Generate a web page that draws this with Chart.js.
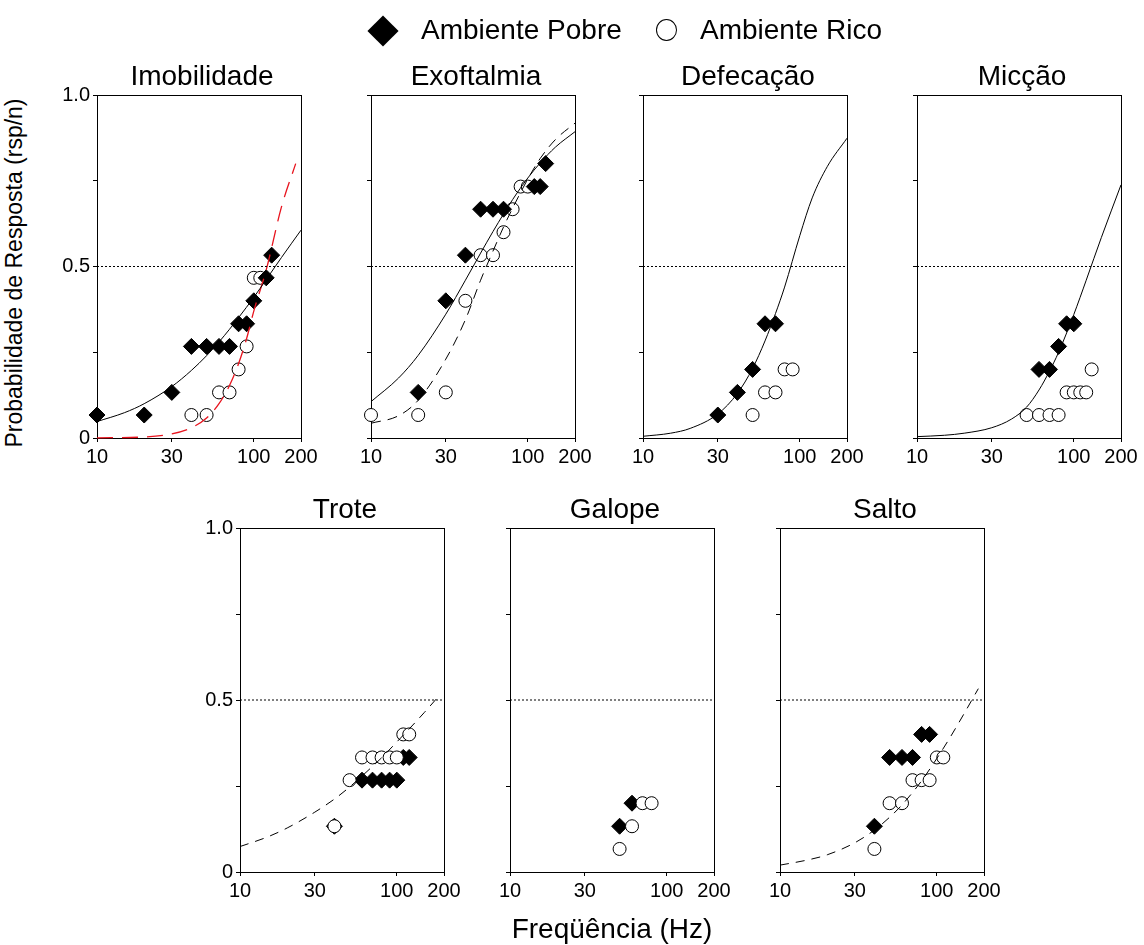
<!DOCTYPE html>
<html><head><meta charset="utf-8">
<script src="https://cdn.jsdelivr.net/npm/chart.js@4"></script>
<style>
body{margin:0;background:#fff;}
#fig{position:relative;width:1144px;height:945px;font-family:"Liberation Sans",Arial,sans-serif;color:#000;overflow:hidden;background:#fff}
#fig canvas{position:absolute}
.t{position:absolute;white-space:nowrap;line-height:1}
.title{font-size:28px;line-height:28px;text-align:center;width:204px}
</style></head><body><div id="fig"></div>
<script>
// ---------------- data ----------------
const xTickValues = [10, 30, 100, 200];
const yTickValues = [0, 0.25, 0.5, 0.75, 1];
const yTickLabels = {0: '0', 0.5: '0.5', 1: '1.0'};
const refLineX = [10, 200];
const refLineY = [0.5, 0.5];
const fitX = [10, 15, 20, 30, 40, 50, 60, 70, 80, 100, 120, 150, 200];

const panelTitles = ['Imobilidade', 'Exoftalmia', 'Defecação', 'Micção', 'Trote', 'Galope', 'Salto'];
const legendLabels = ['Ambiente Pobre', 'Ambiente Rico'];

// Imobilidade
const imobPobreX = [10, 20, 30, 40, 50, 60, 70, 80, 90, 100, 120, 130];
const imobPobreY = [0.067, 0.067, 0.133, 0.267, 0.267, 0.267, 0.267, 0.333, 0.333, 0.4, 0.467, 0.533];
const imobRicoX = [40, 50, 60, 70, 80, 90, 100, 110];
const imobRicoY = [0.067, 0.067, 0.133, 0.133, 0.2, 0.267, 0.467, 0.467];
const imobPobreFitY = [0.048, 0.074, 0.10, 0.15, 0.197, 0.24, 0.28, 0.317, 0.351, 0.41, 0.462, 0.526, 0.606];
const imobRicoFitX = [10, 20, 30, 40, 50, 60, 70, 80, 90, 100, 120, 150, 185];
const imobRicoFitY = [0.0005, 0.003, 0.012, 0.03, 0.058, 0.10, 0.153, 0.217, 0.29, 0.37, 0.49, 0.673, 0.80];

// Exoftalmia
const exoPobreX = [20, 30, 40, 50, 60, 70, 110, 120, 130];
const exoPobreY = [0.133, 0.4, 0.533, 0.667, 0.667, 0.667, 0.733, 0.733, 0.8];
const exoRicoX = [10, 20, 30, 40, 50, 60, 70, 80, 90, 100];
const exoRicoY = [0.067, 0.067, 0.133, 0.4, 0.533, 0.533, 0.6, 0.667, 0.733, 0.733];
const exoPobreFitY = [0.106, 0.175, 0.241, 0.361, 0.46, 0.539, 0.602, 0.653, 0.695, 0.758, 0.802, 0.848, 0.893];
const exoRicoFitY = [0.043, 0.065, 0.11, 0.23, 0.345, 0.46, 0.545, 0.615, 0.67, 0.755, 0.815, 0.87, 0.918];

// Defecação
const defPobreX = [30, 40, 50, 60, 70];
const defPobreY = [0.067, 0.133, 0.2, 0.333, 0.333];
const defRicoX = [50, 60, 70, 80, 90];
const defRicoY = [0.067, 0.133, 0.133, 0.2, 0.2];
const defPobreFitY = [0.005, 0.014, 0.028, 0.07, 0.13, 0.203, 0.283, 0.363, 0.44, 0.59, 0.70, 0.792, 0.874];

// Micção
const micPobreX = [60, 70, 80, 90, 100];
const micPobreY = [0.2, 0.2, 0.267, 0.333, 0.333];
const micRicoX = [50, 60, 70, 80, 90, 100, 110, 120, 130];
const micRicoY = [0.067, 0.067, 0.067, 0.067, 0.133, 0.133, 0.133, 0.133, 0.2];
const micPobreFitY = [0.004, 0.008, 0.014, 0.03, 0.055, 0.09, 0.14, 0.195, 0.25, 0.36, 0.46, 0.585, 0.738];

// Trote
const trotePobreX = [40, 60, 70, 80, 90, 100, 110, 120];
const trotePobreY = [0.133, 0.267, 0.267, 0.267, 0.267, 0.267, 0.333, 0.333];
const troteRicoX = [40, 50, 60, 70, 80, 90, 100, 110, 120];
const troteRicoY = [0.133, 0.267, 0.333, 0.333, 0.333, 0.333, 0.333, 0.4, 0.4];
const troteFitX = [10, 15, 20, 30, 40, 50, 60, 70, 80, 100, 120, 150, 190];
const troteFitY = [0.074, 0.102, 0.128, 0.174, 0.212, 0.247, 0.279, 0.307, 0.332, 0.378, 0.416, 0.464, 0.517];

// Galope
const galPobreX = [50, 60];
const galPobreY = [0.133, 0.2];
const galRicoX = [50, 60, 70, 80];
const galRicoY = [0.067, 0.133, 0.2, 0.2];

// Salto
const saltoPobreX = [40, 50, 60, 70, 80, 90];
const saltoPobreY = [0.133, 0.333, 0.333, 0.333, 0.4, 0.4];
const saltoRicoX = [40, 50, 60, 70, 80, 90, 100, 110];
const saltoRicoY = [0.067, 0.2, 0.2, 0.267, 0.267, 0.267, 0.333, 0.333];
const saltoFitX = [10, 15, 20, 30, 40, 50, 60, 70, 80, 100, 120, 150, 184];
const saltoFitY = [0.02, 0.035, 0.05, 0.085, 0.122, 0.159, 0.195, 0.231, 0.265, 0.33, 0.387, 0.462, 0.533];

// ---------------- layout / styling ----------------
const fig = document.getElementById('fig');
const FONT = '"Liberation Sans", Arial, sans-serif';
Chart.defaults.font.family = FONT;
Chart.defaults.font.size = 20;
Chart.defaults.color = '#000';

const pts = (xs, ys) => xs.map((x, i) => ({x: x, y: ys[i]}));

const PLOT_W = 204;
const PAD_L = 60, PAD_T = 12, PAD_R = 30, PAD_B = 40;

const panels = [
  {title: panelTitles[0], L: 97, T: 95, H: 343, yLabels: true, top: true,
   pobre: [imobPobreX, imobPobreY], rico: [imobRicoX, imobRicoY],
   curves: [{x: fitX, y: imobPobreFitY, dash: [], color: '#000'},
            {x: imobRicoFitX, y: imobRicoFitY, dash: [16, 9], color: '#e8141e', width: 1.3}]},
  {title: panelTitles[1], L: 371, T: 95, H: 343, yLabels: false, top: true,
   pobre: [exoPobreX, exoPobreY], rico: [exoRicoX, exoRicoY],
   curves: [{x: fitX, y: exoPobreFitY, dash: [], color: '#000'},
            {x: fitX, y: exoRicoFitY, dash: [10, 7], color: '#000'}]},
  {title: panelTitles[2], L: 643, T: 95, H: 343, yLabels: false, top: true,
   pobre: [defPobreX, defPobreY], rico: [defRicoX, defRicoY],
   curves: [{x: fitX, y: defPobreFitY, dash: [], color: '#000'}]},
  {title: panelTitles[3], L: 917, T: 95, H: 343, yLabels: false, top: true,
   pobre: [micPobreX, micPobreY], rico: [micRicoX, micRicoY],
   curves: [{x: fitX, y: micPobreFitY, dash: [], color: '#000'}]},
  {title: panelTitles[4], L: 240, T: 528, H: 344, yLabels: true, top: false,
   pobre: [trotePobreX, trotePobreY], rico: [troteRicoX, troteRicoY],
   curves: [{x: troteFitX, y: troteFitY, dash: [9, 7], color: '#000'}]},
  {title: panelTitles[5], L: 510, T: 528, H: 344, yLabels: false, top: false,
   pobre: [galPobreX, galPobreY], rico: [galRicoX, galRicoY], curves: []},
  {title: panelTitles[6], L: 780, T: 528, H: 344, yLabels: false, top: false,
   pobre: [saltoPobreX, saltoPobreY], rico: [saltoRicoX, saltoRicoY],
   curves: [{x: saltoFitX, y: saltoFitY, dash: [9, 7], color: '#000'}]}
];

const framePlugin = {
  id: 'frame',
  beforeDatasetsDraw(chart) {
    const a = chart.chartArea, ctx = chart.ctx;
    ctx.save();
    ctx.strokeStyle = '#000';
    ctx.lineWidth = 1;
    ctx.strokeRect(Math.round(a.left) + 0.5, Math.round(a.top) + 0.5,
                   Math.round(a.right - a.left), Math.round(a.bottom - a.top));
    ctx.restore();
  }
};

function addText(txt, cls, style) {
  const d = document.createElement('div');
  d.className = 't ' + (cls || '');
  d.textContent = txt;
  Object.assign(d.style, style);
  fig.appendChild(d);
  return d;
}

panels.forEach(p => {
  const cv = document.createElement('canvas');
  const w = PAD_L + PLOT_W + PAD_R, h = PAD_T + p.H + PAD_B;
  cv.width = w; cv.height = h;
  cv.style.left = (p.L - PAD_L) + 'px';
  cv.style.top = (p.T - PAD_T) + 'px';
  cv.style.width = w + 'px'; cv.style.height = h + 'px';
  fig.appendChild(cv);

  const datasets = [];
  datasets.push({data: pts(refLineX, refLineY), showLine: true, borderColor: '#000', borderWidth: 1,
    borderDash: [2, 2], pointRadius: 0, order: 0, clip: false});
  p.curves.forEach(c => datasets.push({data: pts(c.x, c.y), showLine: true, borderColor: c.color,
    borderWidth: c.width || 1, borderDash: c.dash, pointRadius: 0, cubicInterpolationMode: 'monotone',
    order: 0, clip: false}));
  datasets.push({label: legendLabels[0], data: pts(p.pobre[0], p.pobre[1]), showLine: false,
    pointStyle: 'rectRot', pointRadius: 8, backgroundColor: '#000', borderColor: '#000', borderWidth: 1,
    order: p.top ? 1 : 2, clip: false});
  datasets.push({label: legendLabels[1], data: pts(p.rico[0], p.rico[1]), showLine: false,
    pointStyle: 'circle', pointRadius: 6.5, backgroundColor: '#fff', borderColor: '#000', borderWidth: 1,
    order: p.top ? 2 : 1, clip: false});

  new Chart(cv, {
    type: 'scatter',
    data: {datasets: datasets},
    plugins: [framePlugin],
    options: {
      responsive: false, animation: false, events: [], devicePixelRatio: 1,
      layout: {autoPadding: false, padding: {left: 0, top: PAD_T, right: PAD_R, bottom: 0}},
      plugins: {legend: {display: false}, tooltip: {enabled: false}, title: {display: false}},
      scales: {
        x: {type: 'logarithmic', min: 10, max: 200,
          afterBuildTicks: s => { s.ticks = xTickValues.map(v => ({value: v})); },
          afterFit: s => { s.height = PAD_B; s.paddingLeft = 0; s.paddingRight = 0; },
          ticks: {autoSkip: false, maxRotation: 0, minRotation: 0, padding: 3,
            font: {size: 20}, color: '#000', callback: v => String(v)},
          grid: {display: true, drawOnChartArea: false, drawTicks: true, tickLength: 4, color: '#000', lineWidth: 1},
          border: {display: true, color: '#000', width: 1}},
        y: {type: 'linear', min: 0, max: 1,
          afterBuildTicks: s => { s.ticks = yTickValues.map(v => ({value: v})); },
          afterFit: s => { s.width = PAD_L; s.paddingTop = 0; s.paddingBottom = 0; },
          ticks: {autoSkip: false, padding: 3, font: {size: 20}, color: '#000',
            callback: v => (p.yLabels && yTickLabels[v] !== undefined) ? yTickLabels[v] : ''},
          grid: {display: true, drawOnChartArea: false, drawTicks: true, tickLength: 4, color: '#000', lineWidth: 1},
          border: {display: true, color: '#000', width: 1}}
      }
    }
  });

  addText(p.title, 'title', {left: (p.L + 3) + 'px', top: (p.T - 33) + 'px'});
});

// legend
const dia = document.createElement('div');
Object.assign(dia.style, {position: 'absolute', left: '371.5px', top: '19.5px', width: '22px', height: '22px',
  background: '#000', transform: 'rotate(45deg)'});
fig.appendChild(dia);
addText(legendLabels[0], '', {left: '421px', top: '16px', fontSize: '28px'});
const circ = document.createElement('div');
Object.assign(circ.style, {position: 'absolute', left: '656px', top: '19px', width: '19px', height: '20px',
  border: '1.5px solid #000', borderRadius: '50%', background: '#fff'});
fig.appendChild(circ);
addText(legendLabels[1], '', {left: '700px', top: '16px', fontSize: '28px'});

// axis titles
addText('Probabilidade de Resposta (rsp/n)', '', {left: '14px', top: '273px', fontSize: '23px',
  transform: 'translate(-50%,-50%) rotate(-90deg)'});
addText('Freqüência (Hz)', '', {left: '612px', top: '915px', fontSize: '28px', transform: 'translateX(-50%)'});
</script></body></html>
